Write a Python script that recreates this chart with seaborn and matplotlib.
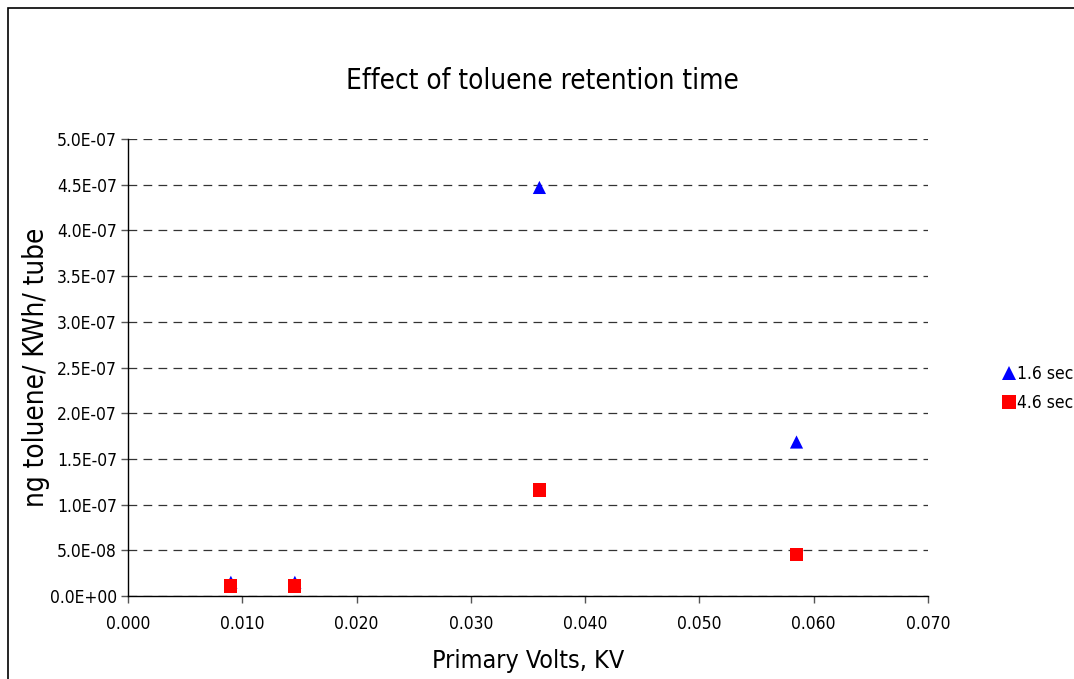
import matplotlib
matplotlib.use("Agg")
import matplotlib.pyplot as plt
import seaborn as sns
import pandas as pd
from matplotlib.patches import Rectangle
from matplotlib.ticker import FixedLocator, FuncFormatter

# Measured emission per energy at each primary voltage
volts = [0.0090, 0.0146, 0.0360, 0.0585]
series_names = ["1.6 sec", "4.6 sec"]
values_16 = [1.5e-08, 1.5e-08, 4.47e-07, 1.685e-07]
values_46 = [1.1e-08, 1.1e-08, 1.16e-07, 4.5e-08]

x_ticks = [0.000, 0.010, 0.020, 0.030, 0.040, 0.050, 0.060, 0.070]
y_ticks = [0.0, 5.0e-08, 1.0e-07, 1.5e-07, 2.0e-07, 2.5e-07, 3.0e-07,
           3.5e-07, 4.0e-07, 4.5e-07, 5.0e-07]

df = pd.DataFrame({
    "volts": volts * 2,
    "value": values_16 + values_46,
    "series": [series_names[0]] * len(volts) + [series_names[1]] * len(volts),
})

sns.set_theme(style="white")
plt.rcParams["font.family"] = ["DejaVu Sans"]
plt.rcParams["font.stretch"] = "condensed"
plt.rcParams["text.color"] = "black"
plt.rcParams["axes.labelcolor"] = "black"

fig = plt.figure(figsize=(10.74, 6.79), dpi=100)
ax = fig.add_axes([0.1192, 0.1222, 0.7448, 0.6731])

sns.scatterplot(
    data=df, x="volts", y="value", hue="series", style="series",
    palette={"1.6 sec": "#0000ff", "4.6 sec": "#ff0000"},
    markers={"1.6 sec": "^", "4.6 sec": "s"},
    s=90, linewidth=0, ax=ax, zorder=3,
)

ax.set_xlim(0, 0.070)
ax.set_ylim(0, 5.0e-07)
ax.xaxis.set_major_locator(FixedLocator(x_ticks))
ax.yaxis.set_major_locator(FixedLocator(y_ticks))
ax.xaxis.set_major_formatter(FuncFormatter(lambda v, p: f"{v:.3f}"))
ax.yaxis.set_major_formatter(FuncFormatter(lambda v, p: f"{v:.1E}"))

ax.yaxis.grid(True, linestyle=(0, (7, 5)), color="#333333", linewidth=0.9)
ax.set_axisbelow(True)
for side in ["top", "right"]:
    ax.spines[side].set_visible(False)
for side in ["left", "bottom"]:
    ax.spines[side].set_color("black")
    ax.spines[side].set_linewidth(1.0)

ax.tick_params(axis="both", direction="out", length=5, width=1, color="#555555",
               labelsize=12.5, colors="black", bottom=True, left=True)
ax.tick_params(axis="x", pad=9)
ax.tick_params(axis="y", pad=3)

ax.set_xlabel("Primary Volts, KV", fontsize=18, labelpad=11)
ax.set_ylabel("ng toluene/ KWh/ tube", fontsize=20, labelpad=0)
fig.text(0.505, 0.880, "Effect of toluene retention time", fontsize=20,
         ha="center", va="center")

handles, labels = ax.get_legend_handles_labels()
ax.legend(handles, labels, loc="center left", bbox_to_anchor=(0.923, 0.428),
          bbox_transform=fig.transFigure, frameon=False, fontsize=12.5,
          handletextpad=0.0, handlelength=1.0, borderpad=0.0,
          labelspacing=0.62, markerscale=1.0)

# Chart-area frame
fig.patches.append(Rectangle((0.0075, -0.05), 1.05, 1.038, transform=fig.transFigure,
                             fill=False, edgecolor="black", linewidth=1.2))

fig.savefig("out.png", dpi=100, facecolor="white")
